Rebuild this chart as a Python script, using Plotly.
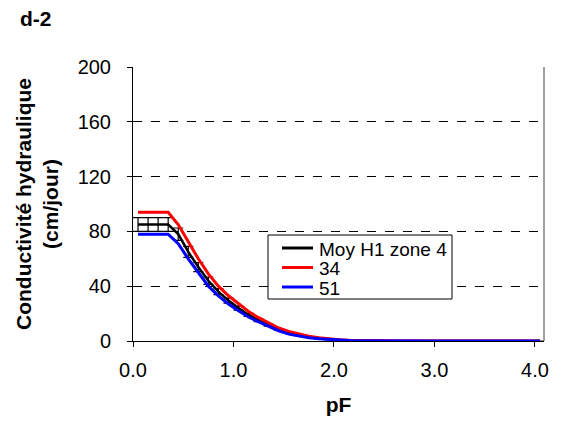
import plotly.graph_objects as go

pf = [0.05, 0.15, 0.25, 0.35, 0.45, 0.55, 0.65, 0.75, 0.85, 0.95,
      1.05, 1.15, 1.25, 1.35, 1.45, 1.55, 1.65, 1.75, 1.85, 1.95,
      2.05, 2.15, 2.25, 2.35, 2.45, 2.55, 2.65, 2.75, 2.85, 2.95,
      3.05, 3.15, 3.25, 3.35, 3.45, 3.55, 3.65, 3.75, 3.85, 3.95, 4.05]

moy = [85, 85, 85, 85, 78, 65, 54, 44, 36, 29.5,
       24, 19, 15, 11.5, 8.5, 6, 4.2, 2.9, 1.9, 1.2,
       0.7, 0.4, 0.2, 0.1, 0.05, 0.02, 0.01, 0, 0, 0,
       0, 0, 0, 0, 0, 0, 0, 0, 0, 0, 0]
moy_err = [5, 5, 5, 5, 4.5, 4, 3.3, 2.7, 2.2, 1.8,
           1.4, 1.1, 0.9, 0.7, 0.5, 0.35, 0.25, 0.15, 0.1, 0.05,
           0.03, 0.02, 0.01, 0, 0, 0, 0, 0, 0, 0,
           0, 0, 0, 0, 0, 0, 0, 0, 0, 0, 0]

s34 = [94, 94, 94, 94, 85, 72, 60, 49, 40, 33,
       27, 21.5, 17, 13, 9.5, 7, 5, 3.5, 2.3, 1.5,
       0.9, 0.5, 0.3, 0.15, 0.08, 0.04, 0.02, 0.01, 0, 0,
       0, 0, 0, 0, 0, 0, 0, 0, 0, 0, 0]

s51 = [78, 78, 78, 78, 71, 60, 50, 40, 33, 27,
       22, 17.5, 14, 10.5, 7.5, 5, 3.5, 2.4, 1.6, 1,
       0.6, 0.35, 0.2, 0.1, 0.05, 0.02, 0.01, 0, 0, 0,
       0, 0, 0, 0, 0, 0, 0, 0, 0, 0, 0]

names = ["Moy H1 zone 4", "34", "51"]
colors = ["black", "#ff0000", "#0000ff"]
y_ticks = [0, 40, 80, 120, 160, 200]
x_ticks = [0, 1, 2, 3, 4]
x_labels = ["0.0", "1.0", "2.0", "3.0", "4.0"]

FONT = "Liberation Sans, Arial, sans-serif"

# page offset from default body margin
OFF = 8
W, H = 560, 420
L, R, T, B = 133 - OFF, W + OFF - 544, 67 - OFF, H + OFF - 341
PW, PH = W - L - R, H - T - B


def px_x(x):
    return (x - OFF - L) / PW


def px_y(y):
    return (H - B - (y - OFF)) / PH


fig = go.Figure()
fig.add_trace(go.Scatter(
    x=pf, y=moy, mode="lines", name=names[0], showlegend=False,
    line=dict(color=colors[0], width=2.5),
    error_y=dict(type="data", array=moy_err, visible=True,
                 color="black", thickness=1.2, width=5),
))
fig.add_trace(go.Scatter(
    x=pf, y=s34, mode="lines", name=names[1], showlegend=False,
    line=dict(color=colors[1], width=3),
))
fig.add_trace(go.Scatter(
    x=pf, y=s51, mode="lines", name=names[2], showlegend=False,
    line=dict(color=colors[2], width=3),
))

# legend box drawn as layout decoration
shapes = [
    dict(type="line", xref="paper", yref="paper", x0=1, x1=1, y0=0, y1=1,
         line=dict(color="#808080", width=1.5)),
    dict(type="rect", xref="paper", yref="paper",
         x0=px_x(268), x1=px_x(452), y0=px_y(299), y1=px_y(235),
         fillcolor="white", line=dict(color="black", width=1), layer="above"),
]
annotations = [
    dict(text="<b>Conductivité hydraulique<br>(cm/jour)</b>",
         xref="paper", yref="paper", x=px_x(37), y=px_y(204),
         xanchor="center", yanchor="middle", textangle=-90,
         showarrow=False, font=dict(size=21)),
    dict(text="<b>d-2</b>", xref="paper", yref="paper",
         x=px_x(18), y=px_y(18),
         xanchor="left", yanchor="middle", showarrow=False,
         font=dict(size=21)),
]
row_y = [248, 267.5, 287]
for name, col, ry in zip(names, colors, row_y):
    shapes.append(dict(type="line", xref="paper", yref="paper",
                       x0=px_x(282), x1=px_x(313), y0=px_y(ry), y1=px_y(ry),
                       line=dict(color=col, width=3), layer="above"))
    annotations.append(dict(text=name, xref="paper", yref="paper",
                            x=px_x(317), y=px_y(ry + 1), xanchor="left",
                            yanchor="middle", showarrow=False,
                            font=dict(size=19)))

fig.update_layout(
    width=W, height=H,
    margin=dict(l=L, r=R, t=T, b=B),
    paper_bgcolor="white", plot_bgcolor="white",
    font=dict(family=FONT, size=20, color="black"),
    showlegend=False,
    xaxis=dict(
        range=[0, 4.09], tickvals=x_ticks, ticktext=x_labels,
        showgrid=False, zeroline=False,
        showline=True, linecolor="black", linewidth=1,
        ticks="outside", ticklen=5, tickcolor="black",
        ticklabelstandoff=6,
        title=dict(text="<b>pF</b>", font=dict(size=21), standoff=17),
    ),
    yaxis=dict(
        range=[0, 200], tickvals=y_ticks,
        showgrid=True, gridcolor="black", gridwidth=1, griddash="dash",
        zeroline=False,
        showline=True, linecolor="black", linewidth=1,
        ticks="outside", ticklen=5, tickcolor="black",
        ticklabelstandoff=12,
    ),
    shapes=shapes,
    annotations=annotations,
)

fig.write_html("out.html")
